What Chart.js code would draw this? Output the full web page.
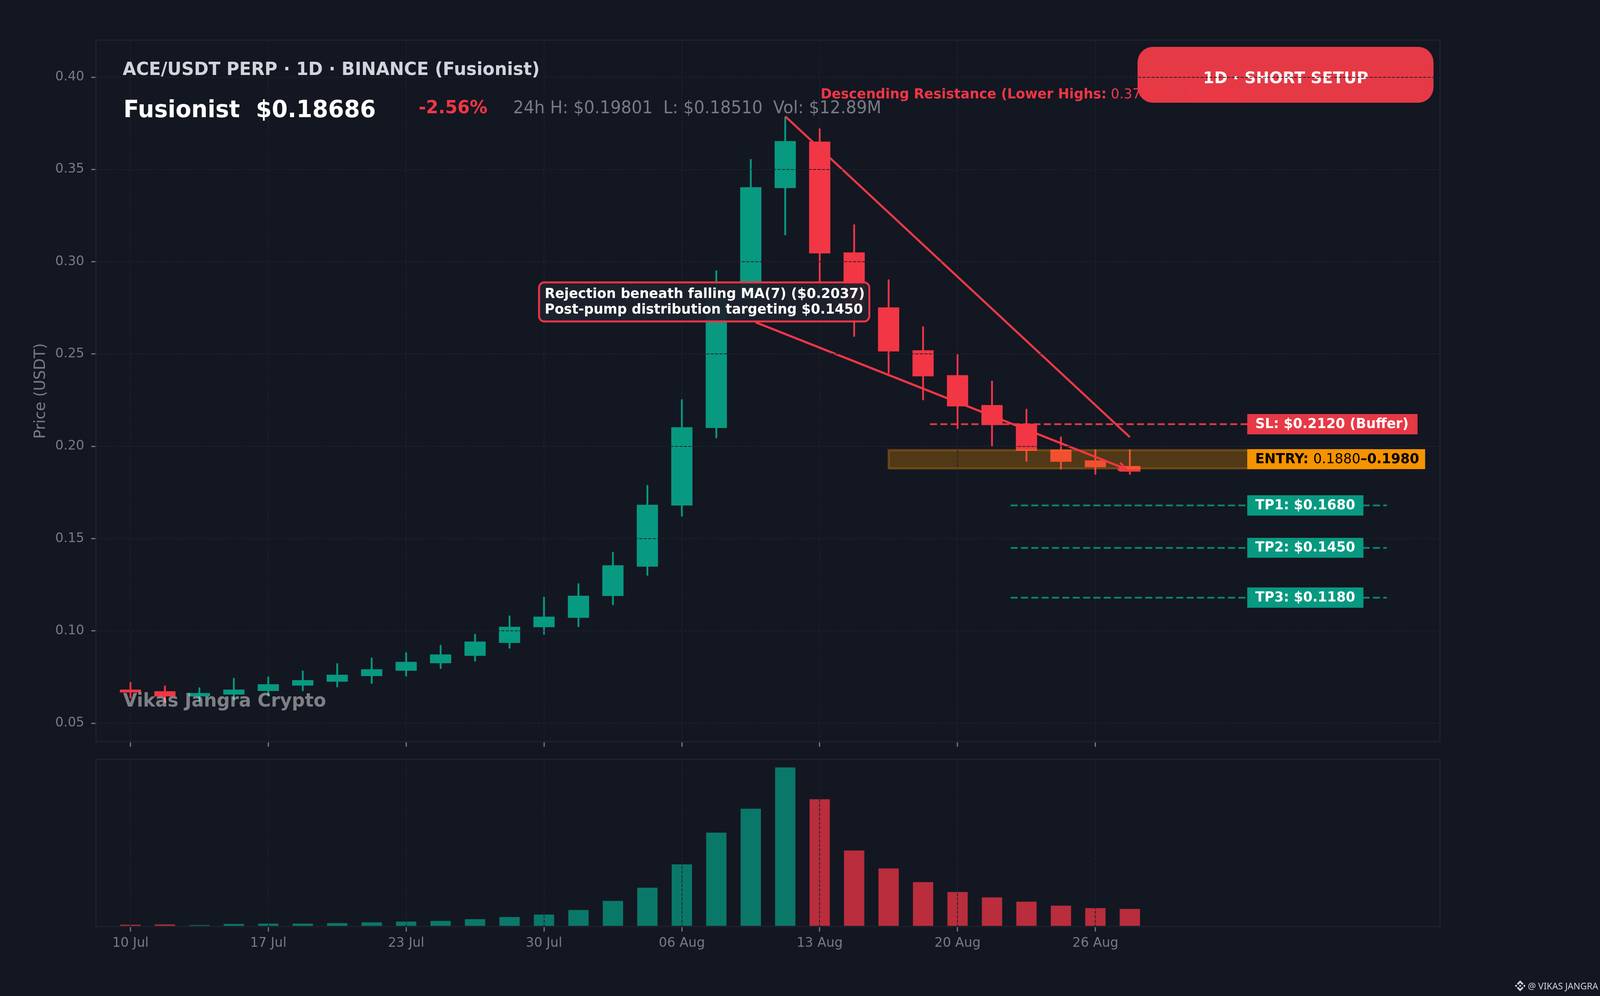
<!DOCTYPE html>
<html>
<head>
<meta charset="utf-8">
<title>ACE/USDT PERP 1D</title>
<script src="https://cdn.jsdelivr.net/npm/chart.js@4/dist/chart.umd.min.js"></script>
<style>
  html, body { margin: 0; padding: 0; background: #131722; width: 100%; height: 2550px; overflow: hidden; }
  canvas { position: absolute; left: 0; }
  #priceChart { top: 0; }
  #volumeChart { top: 1940px; }
  #credit { position: absolute; top: 2508px; height: 32px; display: flex; align-items: center; color: #d1d4dc; font: 23.6px "Noto Sans"; white-space: pre; transform-origin: left center; }
  #credit svg { width: 28px; height: 28px; margin-right: 6px; fill: #d1d4dc; }
</style>
</head>
<body>
<canvas id="priceChart"></canvas>
<canvas id="volumeChart"></canvas>
<div id="credit"><svg viewBox="0 0 32 32"><path d="M9.79 13.45 16 7.24l6.21 6.22 3.61-3.61L16 0 6.18 9.82zM0 16l3.61-3.61L7.22 16l-3.61 3.61zM9.79 18.55 16 24.76l6.21-6.22 3.61 3.61L16 32l-9.82-9.82-.01-.01zM24.78 16l3.61-3.61L32 16l-3.61 3.61zM19.66 16 16 12.34l-2.71 2.71-.31.31-.64.64L16 19.66z"/></svg>@ VIKAS JANGRA</div>
<script>
'use strict'

// *********DATA***********

let opens = [0.0682, 0.0673, 0.0646, 0.0656, 0.0676, 0.0705, 0.0726, 0.0756, 0.0785, 0.0826, 0.0866, 0.0936, 0.1021, 0.1072, 0.119, 0.1349, 0.168, 0.21, 0.28, 0.34, 0.365, 0.305, 0.2752, 0.252, 0.2385, 0.2223, 0.2122, 0.1982, 0.1923, 0.1893];
let closes = [0.0668, 0.0646, 0.0663, 0.0682, 0.0711, 0.0733, 0.0762, 0.0792, 0.0832, 0.0872, 0.0942, 0.1022, 0.1077, 0.119, 0.1355, 0.1683, 0.2103, 0.28, 0.3403, 0.3653, 0.3046, 0.275, 0.2515, 0.238, 0.2217, 0.2116, 0.1977, 0.1917, 0.1888, 0.1864];
let highs = [0.0723, 0.0704, 0.0694, 0.0745, 0.0753, 0.0785, 0.0825, 0.0855, 0.0884, 0.0924, 0.0984, 0.1083, 0.1185, 0.1258, 0.1428, 0.179, 0.2255, 0.2953, 0.3556, 0.3786, 0.3722, 0.3202, 0.2904, 0.265, 0.25, 0.2355, 0.2203, 0.2053, 0.1984, 0.1984];
let lows = [0.0635, 0.061, 0.0617, 0.0626, 0.0645, 0.0674, 0.0695, 0.0714, 0.0754, 0.0795, 0.0835, 0.0905, 0.0981, 0.1021, 0.114, 0.13, 0.162, 0.2044, 0.28, 0.3144, 0.283, 0.2594, 0.2395, 0.225, 0.2095, 0.1997, 0.1917, 0.1875, 0.1847, 0.1847];
let volumes = [1.0, 1.2, 0.8, 1.5, 1.7, 1.7, 2.0, 2.5, 3.0, 3.4, 4.5, 5.9, 7.4, 10.3, 16, 24.3, 39, 59, 74, 100, 80, 47.7, 36.4, 27.8, 21.6, 18.2, 15.5, 13, 11.5, 11];

let xTickIndex = [0, 4, 8, 12, 16, 20, 24, 28];
let xTickLabels = ['10 Jul', '17 Jul', '23 Jul', '30 Jul', '06 Aug', '13 Aug', '20 Aug', '26 Aug'];
let yTicks = [0.05, 0.10, 0.15, 0.20, 0.25, 0.30, 0.35, 0.40];

// trade levels
let slLevel = 0.212;
let tpLevels = [0.168, 0.145, 0.118];
let entryLow = 0.188;
let entryHigh = 0.198;

// drawn trend lines, [candle index, price]
let resistanceLine = [[19, 0.3788], [29, 0.205]];
let arrowLine = [[18.14, 0.2672], [28.89, 0.1877]];

// *********COLORS***********

let bullColor = '#089981';
let bearColor = '#f23645';
let accentRed = '#e63946';
let gridColor = '#1e222d';
let mutedText = '#787b86';
let orange = '#f59300';
let fontFamily = '"DejaVu Sans"';

// *********PAGE SIZE***********

// layout numbers are for a 4200 wide page, sx fits them to the real window
let pageWidth = window.innerWidth;
let sx = pageWidth / 4200;

let priceCanvas = document.getElementById('priceChart');
let volumeCanvas = document.getElementById('volumeChart');
priceCanvas.width = pageWidth;
priceCanvas.height = 1940;
volumeCanvas.width = pageWidth;
volumeCanvas.height = 610;

let credit = document.getElementById('credit');
credit.style.left = (3976 * sx) + 'px';
credit.style.transform = 'scaleX(' + sx + ')';

// *********HELPER FUNCTIONS*********

function text(ctx, str, x, y, font, color, align) {
  ctx.font = font + ' ' + fontFamily;
  ctx.fillStyle = color;
  ctx.textAlign = align || 'left';
  ctx.textBaseline = 'alphabetic';
  ctx.fillText(str, x, y);
}

function box(ctx, x, y, w, h, r, fill, stroke, lineWidth) {
  ctx.beginPath();
  ctx.roundRect(x, y, w, h, r);
  ctx.fillStyle = fill;
  ctx.fill();
  if (stroke) {
    ctx.strokeStyle = stroke;
    ctx.lineWidth = lineWidth;
    ctx.stroke();
  }
}

function fixedTicks(values) {
  return function (scale) {
    scale.ticks = values.map(function (v) { return { value: v }; });
  };
}

function xTickText(value) {
  return xTickLabels[xTickIndex.indexOf(value)];
}

function toPoints(line) {
  return line.map(function (p) { return { x: p[0], y: p[1] }; });
}

function levelPoints(from, to, price) {
  return [{ x: from, y: price }, { x: to, y: price }];
}

// *********PLUGINS*********

let frame = {
  id: 'frame',
  afterDraw(chart) {
    let a = chart.chartArea;
    let ctx = chart.ctx;
    ctx.save();
    ctx.strokeStyle = gridColor;
    ctx.lineWidth = 3.4;
    ctx.strokeRect(a.left, a.top, a.right - a.left, a.bottom - a.top);
    ctx.restore();
  }
};

// the grid is drawn later, so it crosses the badge like in the picture
let badge = {
  id: 'badge',
  beforeDatasetsDraw(chart) {
    let ctx = chart.ctx;
    ctx.save();
    ctx.scale(sx, 1);
    box(ctx, 2986, 120, 777, 143, 40, accentRed);
    text(ctx, '1D · SHORT SETUP', 3375, 213, 'bold 41.7px', '#ffffff', 'center');
    ctx.restore();
  }
};

// entry zone sits on top of the candles, below the lines
let entryZone = {
  id: 'entryZone',
  afterDatasetDraw(chart, args) {
    if (args.index !== 1) return;
    let x = chart.scales.x;
    let y = chart.scales.y;
    let left = x.getPixelForValue(22);
    let right = x.getPixelForValue(36);
    let top = y.getPixelForValue(entryHigh);
    let bottom = y.getPixelForValue(entryLow);
    let ctx = chart.ctx;
    ctx.save();
    ctx.fillStyle = 'rgba(245,147,0,0.28)';
    ctx.fillRect(left, top, right - left, bottom - top);
    ctx.strokeStyle = 'rgba(245,147,0,0.28)';
    ctx.lineWidth = 5.5;
    ctx.strokeRect(left, top, right - left, bottom - top);

    // the date grid shows on the zone where no candle crosses it
    ctx.strokeStyle = 'rgba(19,23,34,0.8)';
    ctx.lineWidth = 2;
    ctx.setLineDash([8, 3.4]);
    xTickIndex.forEach(function (i) {
      if (i > 22 && lows[i] > entryHigh) {
        ctx.beginPath();
        ctx.moveTo(x.getPixelForValue(i), top);
        ctx.lineTo(x.getPixelForValue(i), bottom);
        ctx.stroke();
      }
    });
    ctx.restore();
  }
};

let overlays = {
  id: 'overlays',
  afterDraw(chart) {
    let ctx = chart.ctx;
    let x = chart.scales.x;
    let y = chart.scales.y;
    ctx.save();

    // arrow head at the end of the annotation line
    let tipX = x.getPixelForValue(arrowLine[1][0]);
    let tipY = y.getPixelForValue(arrowLine[1][1]);
    let angle = Math.atan2(tipY - y.getPixelForValue(arrowLine[0][1]), tipX - x.getPixelForValue(arrowLine[0][0]));
    ctx.strokeStyle = bearColor;
    ctx.lineWidth = 5.5;
    ctx.beginPath();
    ctx.moveTo(tipX - 22 * Math.cos(angle - 0.45), tipY - 22 * Math.sin(angle - 0.45));
    ctx.lineTo(tipX, tipY);
    ctx.lineTo(tipX - 22 * Math.cos(angle + 0.45), tipY - 22 * Math.sin(angle + 0.45));
    ctx.stroke();

    ctx.scale(sx, 1);

    // header
    text(ctx, 'ACE/USDT PERP · 1D · BINANCE (Fusionist)', 322, 192, 'bold 45.8px', '#d1d4dc');
    text(ctx, 'Fusionist  $0.18686', 324, 300, 'bold 60px', '#ffffff');
    text(ctx, '-2.56%', 1099, 290, 'bold 46.5px', bearColor);
    text(ctx, '24h H: $0.19801  L: $0.18510  Vol: $12.89M', 1347, 290, '43.6px', mutedText);

    // resistance caption
    text(ctx, 'Descending Resistance (Lower Highs:', 2154, 252, 'bold 35.4px', bearColor);
    text(ctx, '0.3788 – > 0.2050)', 2916, 252, '35.4px', bearColor);

    // annotation box
    box(ctx, 1415, 723, 867, 100, 14, 'rgba(30,34,45,0.94)', bearColor, 5);
    text(ctx, 'Rejection beneath falling MA(7) ($0.2037)', 1430, 763, 'bold 35.4px', '#ffffff');
    text(ctx, 'Post-pump distribution targeting $0.1450', 1430, 803, 'bold 35.4px', '#ffffff');

    // level tags
    box(ctx, 3274, 1060, 447, 52, 0, accentRed);
    text(ctx, 'SL: $0.2120 (Buffer)', 3295, 1096, 'bold 35.4px', '#ffffff');

    box(ctx, 3274, 1150, 467, 51, 0, orange);
    text(ctx, 'ENTRY:', 3295, 1186, 'bold 35.4px', '#000000');
    let entryX = 3295 + ctx.measureText('ENTRY: ').width;
    text(ctx, '0.1880', entryX, 1186, '35.4px', '#000000');
    entryX += ctx.measureText('0.1880').width;
    text(ctx, '–0.1980', entryX, 1186, 'bold 35.4px', '#000000');

    box(ctx, 3274, 1268, 305, 52, 0, bullColor);
    text(ctx, 'TP1: $0.1680', 3295, 1304, 'bold 35.4px', '#ffffff');
    box(ctx, 3274, 1377, 305, 51, 0, bullColor);
    text(ctx, 'TP2: $0.1450', 3295, 1412, 'bold 35.4px', '#ffffff');
    box(ctx, 3274, 1504, 305, 52, 0, bullColor);
    text(ctx, 'TP3: $0.1180', 3295, 1540, 'bold 35.4px', '#ffffff');

    // watermark
    text(ctx, 'Vikas Jangra Crypto', 323, 1809, 'bold 47.9px', 'rgba(255,255,255,0.45)');
    ctx.restore();
  }
};

// *********PRICE CHART*********

let candleIndex = opens.map(function (o, i) { return i; });
let candleColors = opens.map(function (o, i) { return closes[i] >= o ? bullColor : bearColor; });
let volumeColors = opens.map(function (o, i) { return closes[i] >= o ? 'rgba(8,153,129,0.75)' : 'rgba(242,54,69,0.75)'; });

function levelDataset(points, color) {
  return {
    type: 'line',
    data: points,
    borderColor: color,
    borderWidth: 4.5,
    borderDash: [18, 8.5],
    pointRadius: 0,
    order: 3
  };
}

function trendDataset(line, color) {
  return {
    type: 'line',
    data: toPoints(line),
    borderColor: color,
    borderWidth: 5.5,
    pointRadius: 0,
    order: 2
  };
}

function xGrid(z) {
  return { offset: false, color: gridColor, lineWidth: 2, z: z, tickColor: mutedText, tickWidth: 3, tickLength: 13 };
}

let sharedX = {
  type: 'linear',
  min: -1,
  max: 38,
  offset: false,
  afterBuildTicks: fixedTicks(xTickIndex),
  border: { display: false, dash: [8, 3.4] }
};

new Chart(priceCanvas, {
  type: 'bar',
  data: {
    datasets: [
      {
        data: candleIndex.map(function (i) { return { x: i, y: [lows[i], highs[i]] }; }),
        backgroundColor: candleColors,
        barThickness: 4,
        borderRadius: 2,
        borderSkipped: false,
        grouped: false,
        order: 5
      },
      {
        data: candleIndex.map(function (i) { return { x: i, y: [opens[i], closes[i]] }; }),
        backgroundColor: candleColors,
        barThickness: 55 * sx,
        borderSkipped: false,
        grouped: false,
        order: 4
      },
      levelDataset(levelPoints(23.2, 36.5, slLevel), accentRed),
      levelDataset(levelPoints(25.54, 36.46, tpLevels[0]), 'rgba(8,153,129,0.85)'),
      levelDataset(levelPoints(25.54, 36.46, tpLevels[1]), 'rgba(8,153,129,0.85)'),
      levelDataset(levelPoints(25.54, 36.46, tpLevels[2]), 'rgba(8,153,129,0.85)'),
      trendDataset(resistanceLine, accentRed),
      trendDataset(arrowLine, bearColor)
    ]
  },
  options: {
    responsive: false,
    devicePixelRatio: 1,
    animation: false,
    events: [],
    layout: { padding: { top: 103, right: 420 * sx, left: 0, bottom: 0 } },
    plugins: { legend: { display: false }, tooltip: { enabled: false } },
    scales: {
      x: Object.assign({}, sharedX, {
        grid: xGrid(0),
        ticks: { display: false, autoSkip: false },
        afterFit(scale) { scale.height = 41; }
      }),
      y: {
        min: 0.04,
        max: 0.42,
        afterBuildTicks: fixedTicks(yTicks),
        afterFit(scale) { scale.width = 252 * sx; },
        border: { display: false, dash: [8, 3.4] },
        grid: { color: gridColor, lineWidth: 2, z: 1, tickColor: mutedText, tickWidth: 3, tickLength: 12 },
        ticks: {
          autoSkip: false,
          padding: 18,
          color: mutedText,
          font: { family: 'DejaVu Sans', size: 33.3 },
          callback: function (value) { return value.toFixed(2); }
        },
        title: {
          display: true,
          text: 'Price (USDT)',
          color: mutedText,
          padding: { top: 81, bottom: 0 },
          font: { family: 'DejaVu Sans', size: 39 }
        }
      }
    }
  },
  plugins: [badge, entryZone, frame, overlays]
});

// *********VOLUME CHART*********

new Chart(volumeCanvas, {
  type: 'bar',
  data: {
    datasets: [{
      data: candleIndex.map(function (i) { return { x: i, y: volumes[i] }; }),
      backgroundColor: volumeColors,
      barThickness: 52.6 * sx
    }]
  },
  options: {
    responsive: false,
    devicePixelRatio: 1,
    animation: false,
    events: [],
    layout: { padding: { top: 4, right: 420 * sx, left: 252 * sx, bottom: 0 } },
    plugins: { legend: { display: false }, tooltip: { enabled: false } },
    scales: {
      x: Object.assign({}, sharedX, {
        grid: xGrid(1),
        ticks: {
          autoSkip: false,
          maxRotation: 0,
          padding: 10,
          color: mutedText,
          font: { family: 'DejaVu Sans', size: 33.3 },
          callback: xTickText
        },
        afterFit(scale) { scale.height = 178; }
      }),
      y: { display: false, min: 0, max: 105.2 }
    }
  },
  plugins: [frame]
});
</script>
</body>
</html>
